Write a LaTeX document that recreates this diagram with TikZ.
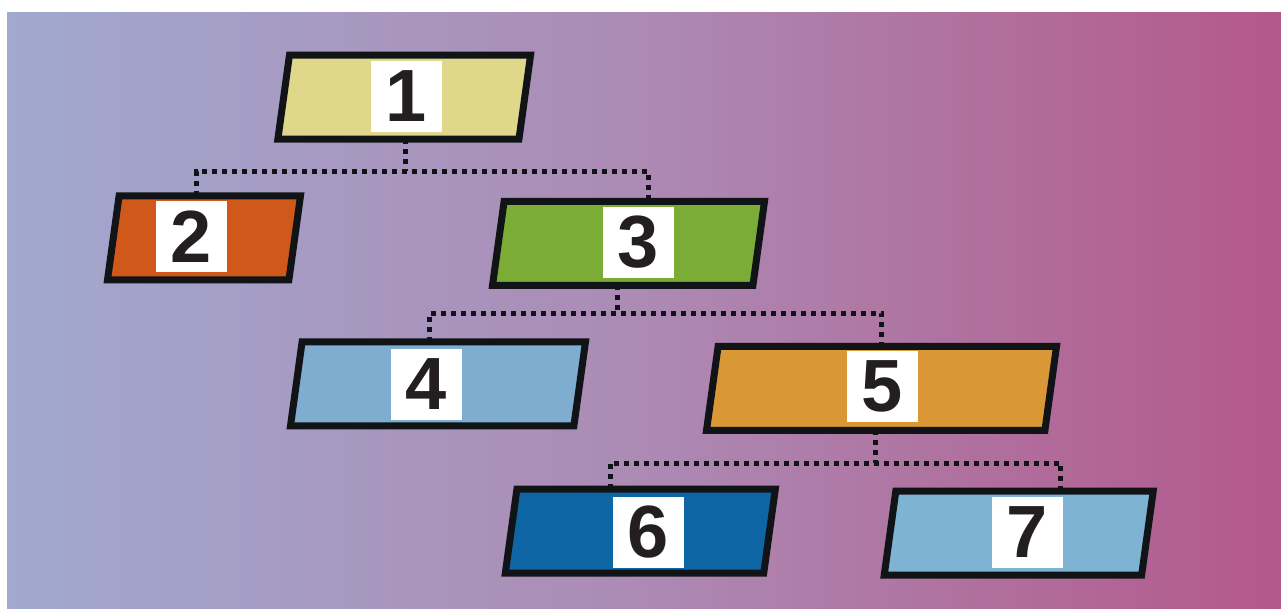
\documentclass[tikz,border=0pt]{standalone}
\usepackage{fontspec}
\setmainfont{Liberation Sans}

\definecolor{bgleft}{HTML}{A1A9CF}
\definecolor{bgmid}{HTML}{AC8AB4}
\definecolor{bgright}{HTML}{B4588A}
\definecolor{edge}{HTML}{111416}
\definecolor{digit}{HTML}{231F20}
\definecolor{c1}{HTML}{DFD78A}
\definecolor{c2}{HTML}{D1581B}
\definecolor{c3}{HTML}{7AAC36}
\definecolor{c4}{HTML}{7FADCF}
\definecolor{c5}{HTML}{D99736}
\definecolor{c6}{HTML}{0F66A5}
\definecolor{c7}{HTML}{7FB3D4}

\begin{document}
\begin{tikzpicture}[x=1pt,y=-1pt,
					auto,
					frame/.style={rectangle,minimum height=84pt,inner sep=0pt,outer sep=0pt},
					slant/.style={draw=edge,line width=7pt},
					num/.style={fill=white,minimum size=71pt,inner sep=0pt,text=digit,
						font=\fontsize{74}{74}\selectfont\bfseries},
					link/.style={draw=edge,line width=5pt,dash pattern=on 5pt off 5pt}]

  % page and background
  \fill[white] (0,0) rectangle (1281,608);
  \useasboundingbox (0,0) rectangle (1281,608);
  \shade[left color=bgleft,right color=bgright,middle color=bgmid] (7,12) rectangle (1281,608);

  \node[frame,minimum width=241.1pt] (n1) at (404.2,97.2) {};
  \node[frame,minimum width=181.4pt] (n2) at (204,237.9) {};
  \node[frame,minimum width=260.4pt] (n3) at (628.5,243.4) {};
  \node[frame,minimum width=283.4pt] (n4) at (438,383.8) {};
  \node[frame,minimum width=338.4pt] (n5) at (881.5,388.4) {};
  \node[frame,minimum width=258.4pt] (n6) at (640.3,531.2) {};
  \node[frame,minimum width=257.4pt] (n7) at (1018.7,533.2) {};

  % slanted boxes
  \foreach \n/\c in {n1/c1,n2/c2,n3/c3,n4/c4,n5/c5,n6/c6,n7/c7}
    \draw[slant,fill=\c] ([xshift=5.8pt]\n.north west) -- ([xshift=5.8pt]\n.north east)
      -- ([xshift=-5.8pt]\n.south east) -- ([xshift=-5.8pt]\n.south west) -- cycle;

  \node[num] (l1) at (406.5,96.2) {1};
  \node[num] (l2) at (191.5,236.3) {2};
  \node[num] (l3) at (638.5,242.3) {3};
  \node[num] (l4) at (426.5,384.3) {4};
  \node[num] (l5) at (882.5,386.5) {5};
  \node[num] (l6) at (648.5,532.3) {6};
  \node[num] (l7) at (1027.5,532.5) {7};

  % dotted links
  \coordinate (j1) at (405,171.3);
  \coordinate (j3) at (617,313.3);
  \coordinate (j5) at (875.7,463);

  \draw[link] (j1 |- n1.south) -- (j1);
  \draw[link] ([xshift=-7.3pt]n2.north) |- (j1) -| ([xshift=20.2pt]n3.north);

  \draw[link] (j3 |- n3.south) -- (j3);
  \draw[link] ([xshift=-8.7pt]n4.north) |- (j3) -| ([xshift=0.2pt]n5.north);

  \draw[link] (j5 |- n5.south) -- (j5);
  \draw[link] ([xshift=-30.3pt]n6.north) |- (j5) -| ([xshift=42pt]n7.north);
\end{tikzpicture}
\end{document}
